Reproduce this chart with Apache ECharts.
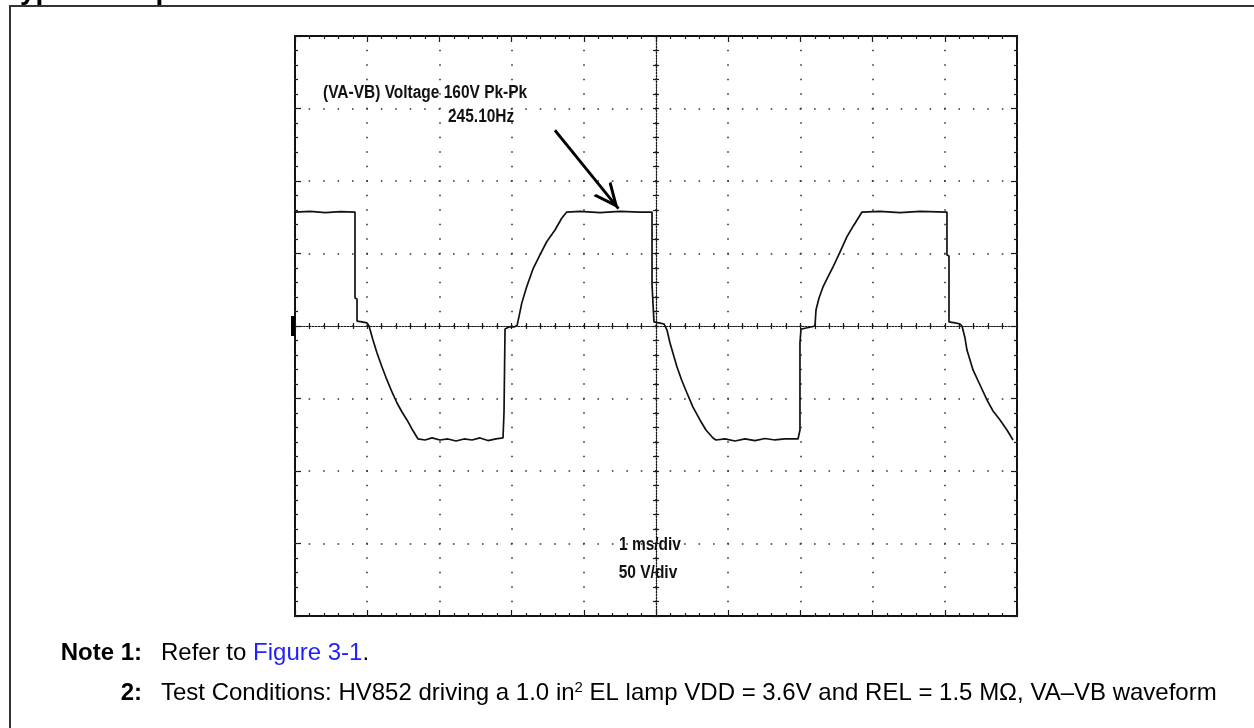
<!DOCTYPE html>
<html>
<head>
<meta charset="utf-8">
<script src="https://cdn.jsdelivr.net/npm/echarts@6/dist/echarts.min.js"></script>
<style>
html, body { margin: 0; padding: 0; background: #fff; }
#scope { width: 1254px; height: 728px; }
</style>
</head>
<body>
<div id="scope"></div>
<script>
var chart = echarts.init(document.getElementById('scope'));

// time (ms, 0 = screen centre) and voltage (V)
var timeMs = [
  -5.00, -4.79, -4.58, -4.37, -4.169,
  -4.169, -4.141, -4.141, -4.072, -4.003, -3.975,
  -3.920, -3.864, -3.795, -3.726, -3.657, -3.587, -3.518, -3.449, -3.380, -3.296,
  -3.199, -3.102, -2.992, -2.881, -2.770, -2.659, -2.548, -2.438, -2.327, -2.216, -2.119,
  -2.105, -2.091, -2.036, -1.967, -1.925,
  -1.891, -1.860, -1.791, -1.700, -1.607, -1.514, -1.399, -1.306, -1.237,
  -1.053, -0.776, -0.499, -0.222, -0.055,
  -0.055, -0.028, -0.028, 0.042, 0.111,
  0.152, 0.194, 0.291, 0.360, 0.429, 0.512, 0.609, 0.692, 0.789, 0.831,
  0.956, 1.094, 1.233, 1.371, 1.510, 1.648, 1.787, 1.967,
  1.994, 1.994, 2.008, 2.078, 2.147, 2.202,
  2.216, 2.258, 2.313, 2.382, 2.452, 2.548, 2.645, 2.742, 2.853,
  3.102, 3.380, 3.657, 4.030,
  4.030, 4.058, 4.058, 4.141, 4.211, 4.238,
  4.280, 4.307, 4.391, 4.488, 4.584, 4.668, 4.765, 4.861, 4.945
];
var voltV = [
  78.6, 79.0, 78.2, 78.9, 78.6,
  19.3, 18.6, 3.4, 2.8, 2.1, 0.0,
  -9.7, -18.6, -28.3, -37.2, -45.5, -53.1, -59.3, -64.8, -71.0, -77.9,
  -78.6, -77.2, -78.6, -77.9, -79.3, -77.9, -78.6, -77.2, -79.0, -77.9, -77.2,
  -59.3, -2.1, -0.7, -0.7, 0.3,
  8.0, 15.6, 27.1, 39.8, 49.0, 58.1, 66.2, 74.3, 78.6,
  79.0, 78.2, 79.0, 78.6, 78.6,
  28.3, 27.6, 2.8, 2.1, 1.4,
  -2.8, -11.7, -28.3, -37.9, -46.2, -55.9, -64.8, -71.7, -77.2, -78.6,
  -77.9, -79.3, -77.9, -79.0, -77.6, -78.6, -77.9, -77.9,
  -71.7, -11.7, -2.1, -1.4, -0.7, 0.0,
  11.0, 19.3, 26.9, 33.8, 40.7, 51.0, 61.6, 69.7, 78.6,
  79.0, 78.2, 79.0, 78.6,
  49.0, 48.3, 2.8, 2.1, 1.4, 0.0,
  -8.3, -16.6, -30.3, -40.7, -51.0, -58.6, -64.8, -71.7, -78.6
];

// graticule: 10 x 1 ms, 8 x 50 V
var timeRange = [-5, 5];
var voltRange = [-200, 200];
var msPerDiv = 1;
var voltPerDiv = 50;

// annotation arrow, [time, volt]
var arrowFrom = [-1.40, 135];
var arrowTo = [-0.52, 81];

var trace = timeMs.map(function (t, i) { return [t, voltV[i]]; });

var ink = '#1a1a1a';
var tickStyle = { color: ink, width: 1.2 };

function scopeAxis(range, step, position, opts) {
  return {
    type: 'value', min: range[0], max: range[1], interval: step,
    position: position,
    axisLabel: { show: false },
    splitLine: opts.split || { show: false },
    axisLine: opts.line || { show: false, onZero: false },
    axisTick: { show: true, inside: opts.inside, length: opts.major, lineStyle: tickStyle },
    minorTick: { show: true, splitNumber: 5, length: opts.minor, lineStyle: tickStyle }
  };
}

var centreLine = function () {
  return { show: true, onZero: true, onZeroAxisIndex: 0,
    lineStyle: { color: ink, width: 1.2, type: [1.3, 1.6] } };
};

var xAxes = [
  scopeAxis(timeRange, msPerDiv, 'bottom', { inside: true, major: 6, minor: 3,
    split: { show: true, lineStyle: { color: '#333', width: 1.6, type: [1.6, 12.9], dashOffset: 0.8 } } }),
  scopeAxis(timeRange, msPerDiv, 'top', { inside: true, major: 6, minor: 3 }),
  scopeAxis(timeRange, msPerDiv, 'bottom', { inside: true, major: 3, minor: 3, line: centreLine() }),
  scopeAxis(timeRange, msPerDiv, 'bottom', { inside: false, major: 3, minor: 3, line: centreLine() })
];
var yAxes = [
  scopeAxis(voltRange, voltPerDiv, 'left', { inside: true, major: 6, minor: 3,
    split: { show: true, lineStyle: { color: '#333', width: 1.6, type: [1.6, 12.84], dashOffset: 0.8 } } }),
  scopeAxis(voltRange, voltPerDiv, 'right', { inside: true, major: 6, minor: 3 }),
  scopeAxis(voltRange, voltPerDiv, 'left', { inside: true, major: 3, minor: 3, line: centreLine() }),
  scopeAxis(voltRange, voltPerDiv, 'left', { inside: false, major: 3, minor: 3, line: centreLine() })
];

// scope screen text is a narrow bold face: squeeze a regular bold one
var scopeFont = 'bold 18px "Liberation Sans", Arial, sans-serif';
var squeeze = 0.86;
var noteFont = '"Liberation Sans", Arial, sans-serif';
var noteSize = 24;

function scopeText(text, x, y, align) {
  return { type: 'text', silent: true, z: 10, x: x, y: y, scaleX: squeeze,
    style: { text: text, x: 0, y: 0, textAlign: align, textVerticalAlign: 'middle',
      font: scopeFont, fill: '#111' } };
}

chart.setOption({
  animation: false,
  backgroundColor: '#fff',
  grid: {
    left: 295, top: 36, width: 722, height: 580,
    show: true, borderColor: '#111', borderWidth: 2, backgroundColor: '#fff'
  },
  xAxis: xAxes,
  yAxis: yAxes,
  series: [{
    type: 'line',
    xAxisIndex: 0, yAxisIndex: 0,
    data: trace,
    showSymbol: false,
    symbol: 'none',
    lineStyle: { color: '#111', width: 1.7 },
    z: 5,
    silent: true,
    markPoint: {
      silent: true,
      symbol: 'rect', symbolSize: [4, 20], symbolOffset: [-2, 0],
      itemStyle: { color: '#000' },
      label: { show: false },
      data: [{ coord: [timeRange[0], 0] }]
    },
    markLine: {
      silent: true,
      // open V head; the speck at the top keeps the tip at the symbol centre
      symbol: ['none', 'path://M5,0 L5.05,0.1 L4.95,0.1 Z M5,12 L10,24 L8.57,24 L5,15.5 L1.43,24 L0,24 Z'],
      symbolSize: [23, 51],
      lineStyle: { color: '#000', width: 2.8, type: 'solid' },
      label: { show: false },
      data: [[{ coord: arrowFrom }, { coord: arrowTo }]]
    }
  }],
  graphic: [
    { type: 'rect', silent: true, z: 0,
      shape: { x: 10, y: 6, width: 1270, height: 760 },
      style: { fill: 'none', stroke: '#333', lineWidth: 2 } },
    { type: 'text', silent: true,
      style: { text: 'Typical Output Waveform', x: 5, y: 5, textVerticalAlign: 'bottom',
        font: 'bold 28px "Liberation Sans", Arial, sans-serif', fill: '#000' } },
    scopeText('(VA-VB) Voltage 160V Pk-Pk', 323, 93, 'left'),
    scopeText('245.10Hz', 448, 117, 'left'),
    scopeText('1 ms/div', 650, 545, 'center'),
    scopeText('50 V/div', 648, 573, 'center'),
    { type: 'text', silent: true,
      style: { text: 'Note 1:', x: 142, y: 653, textAlign: 'right', textVerticalAlign: 'middle',
        font: 'bold ' + noteSize + 'px ' + noteFont, fill: '#000' } },
    { type: 'text', silent: true,
      style: { text: '2:', x: 142, y: 693, textAlign: 'right', textVerticalAlign: 'middle',
        font: 'bold ' + noteSize + 'px ' + noteFont, fill: '#000' } },
    { type: 'text', silent: true,
      style: {
        text: '{n|Refer to }{a|Figure 3-1}{n|.}', x: 161, y: 653, textVerticalAlign: 'middle',
        rich: {
          n: { fontFamily: noteFont, fontSize: noteSize, fill: '#000', color: '#000' },
          a: { fontFamily: noteFont, fontSize: noteSize, fill: '#1f1fff', color: '#1f1fff' }
        }
      } },
    { type: 'text', silent: true,
      style: {
        text: '{n|Test Conditions: HV852 driving a 1.0 in}{s|2}{n| EL lamp VDD = 3.6V and REL = 1.5 MΩ, VA–VB waveform}',
        x: 161, y: 693, textVerticalAlign: 'middle',
        rich: {
          n: { fontFamily: noteFont, fontSize: noteSize, fill: '#000', color: '#000', height: 28, verticalAlign: 'bottom' },
          s: { fontFamily: noteFont, fontSize: 15, fill: '#000', color: '#000', height: 17, verticalAlign: 'top' }
        }
      } }
  ]
});
</script>
</body>
</html>
